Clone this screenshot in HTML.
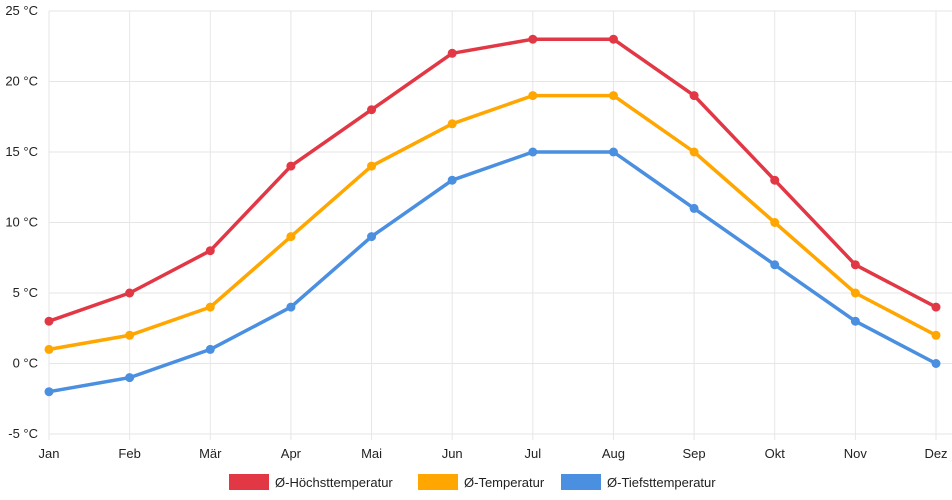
<!DOCTYPE html>
<html><head><meta charset="utf-8"><style>
body{margin:0;background:#fff;font-family:"Liberation Sans",sans-serif}
svg{display:block}
</style></head><body>
<svg id="chart" width="952" height="500" xmlns="http://www.w3.org/2000/svg" font-family="Liberation Sans, sans-serif" font-size="13" fill="#222"></svg>
<script>
const months=["Jan","Feb","Mär","Apr","Mai","Jun","Jul","Aug","Sep","Okt","Nov","Dez"];
const highTemps=[3,5,8,14,18,22,23,23,19,13,7,4];
const avgTemps=[1,2,4,9,14,17,19,19,15,10,5,2];
const lowTemps=[-2,-1,1,4,9,13,15,15,11,7,3,0];
const yTicks=[-5,0,5,10,15,20,25];
const seriesNames=["Ø-Höchsttemperatur","Ø-Temperatur","Ø-Tiefsttemperatur"];
const NS="http://www.w3.org/2000/svg";
const svg=document.getElementById('chart');
const x0=49,x1=936,yTop=11,yBot=434,yMin=-5,yMax=25;
const xs=i=>x0+i*(x1-x0)/(months.length-1);
const ys=v=>yBot-(v-yMin)/(yMax-yMin)*(yBot-yTop);
function mk(t,a){const e=document.createElementNS(NS,t);for(const k in a)e.setAttribute(k,a[k]);svg.appendChild(e);return e;}
yTicks.forEach(v=>{
  const l=mk('line',{x1:x0,x2:952,y1:ys(v),y2:ys(v),stroke:'#e6e6e6','stroke-width':1});
  
  
  const t=mk('text',{x:38,y:ys(v)+4,'text-anchor':'end'});t.textContent=v+' °C';
  
  
});
months.forEach((m,i)=>{
  const l=mk('line',{x1:xs(i),x2:xs(i),y1:yTop,y2:yBot+6,stroke:'#e6e6e6','stroke-width':1});
  
  
  const t=mk('text',{x:xs(i),y:458,'text-anchor':'middle'});t.textContent=m;
  
  
});
const series=[[highTemps,'#e23744'],[avgTemps,'#ffa600'],[lowTemps,'#4a8fe0']];
series.forEach(([d,c],si)=>{
  const p=mk('polyline',{points:d.map((v,i)=>xs(i)+','+ys(v)).join(' '),fill:'none',stroke:c,'stroke-width':3.5,'stroke-linejoin':'round'});
  
  
  d.forEach((v,i)=>{
    const ci=mk('circle',{cx:xs(i),cy:ys(v),r:4.5,fill:c});
    
    
  });
});
const legX=[229,418,561];
seriesNames.forEach((n,i)=>{
  const r=mk('rect',{x:legX[i],y:474,width:40,height:16,fill:series[i][1]});
  
  
  const t=mk('text',{x:legX[i]+46,y:487});t.textContent=n;
  
  
});
</script>
</body></html>
